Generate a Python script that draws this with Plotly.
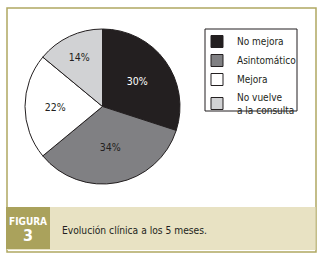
import plotly.graph_objects as go

labels = ["No mejora", "Asintomático", "Mejora", "No vuelve<br>a la consulta"]
values = [30, 34, 22, 14]
colors = ["#231f20", "#808083", "#ffffff", "#d1d2d4"]
text_colors = ["#ffffff", "#231f20", "#231f20", "#231f20"]
caption = "Evolución clínica a los 5 meses."
fig_label = "FIGURA"
fig_num = "3"

W, H = 326, 262
def px(x): return x / W
def py(y): return 1 - y / H

FONT = "DejaVu Sans Condensed, Liberation Sans Narrow, Liberation Sans, Arial"

fig = go.Figure(go.Pie(
    labels=labels, values=values, sort=False, direction="clockwise", rotation=0,
    marker=dict(colors=colors, line=dict(color="#231f20", width=1)),
    textinfo="percent", texttemplate="%{percent:.0%}", textposition="inside",
    insidetextfont=dict(color=text_colors, size=10.5, family=FONT),
    insidetextorientation="horizontal",
    domain=dict(x=[px(25), px(180)], y=[py(184), py(29)]),
    hoverinfo="skip",
))

shapes = [
    dict(type="rect", xref="paper", yref="paper", x0=px(7), x1=px(316), y0=py(252), y1=py(8),
         line=dict(color="#b0a862", width=1.5), fillcolor="rgba(0,0,0,0)", layer="below"),
    dict(type="rect", xref="paper", yref="paper", x0=px(7), x1=px(315.5), y0=py(250), y1=py(207),
         line=dict(width=0), fillcolor="#e8e2c3", layer="below"),
    dict(type="rect", xref="paper", yref="paper", x0=px(6), x1=px(50), y0=py(249), y1=py(207),
         line=dict(width=0), fillcolor="#aaa25c", layer="below"),
    dict(type="rect", xref="paper", yref="paper", x0=px(205), x1=px(297), y0=py(111), y1=py(29),
         line=dict(color="#231f20", width=1), fillcolor="white", layer="below"),
]
annotations = [
    dict(text="<b>" + fig_label + "</b>", x=px(28), y=py(221.5), xref="paper", yref="paper",
         showarrow=False, font=dict(color="white", size=10, family=FONT), xanchor="center", yanchor="middle"),
    dict(text="<b>" + fig_num + "</b>", x=px(28), y=py(235), xref="paper", yref="paper",
         showarrow=False, font=dict(color="white", size=16, family=FONT), xanchor="center", yanchor="middle"),
    dict(text=caption, x=px(60), y=py(230.5), xref="paper", yref="paper",
         showarrow=False, font=dict(color="#231f20", size=10.2, family=FONT), xanchor="left", yanchor="middle"),
]

fig.update_layout(
    width=W, height=H, margin=dict(l=0, r=0, t=0, b=0),
    paper_bgcolor="white", plot_bgcolor="white",
    shapes=shapes, annotations=annotations,
    showlegend=True,
    legend=dict(x=px(197), y=py(27), xanchor="left", yanchor="top",
                borderwidth=0, bgcolor="rgba(0,0,0,0)",
                font=dict(size=10, family=FONT, color="#231f20"),
                itemwidth=30, tracegroupgap=0),
)
fig.write_html("out.html", config={"displayModeBar": False},
               post_script="document.body.style.margin='0';document.body.style.overflow='hidden';")
